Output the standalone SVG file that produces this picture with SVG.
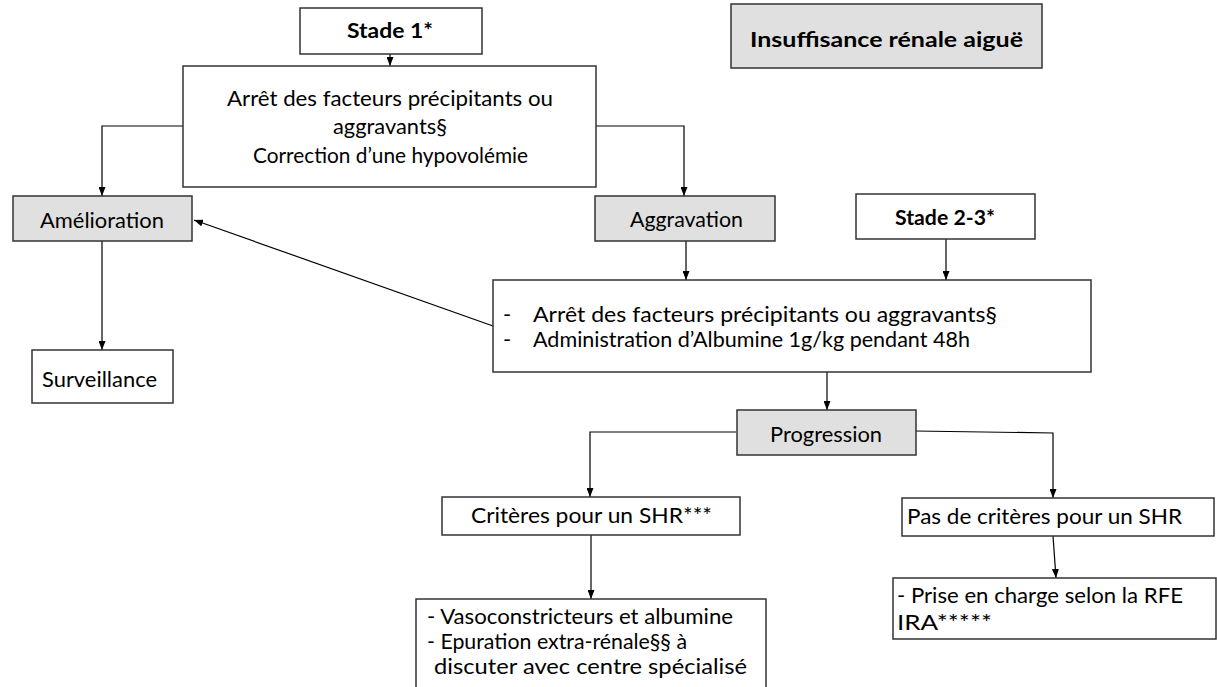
<svg xmlns="http://www.w3.org/2000/svg" width="1217" height="687" viewBox="0 0 1217 687">
<defs>
<marker id="ah" markerUnits="userSpaceOnUse" markerWidth="9" markerHeight="7" refX="9" refY="3.5" orient="auto">
<path d="M0,0 L9,3.5 L0,7 z" fill="#000"/>
</marker>
<style>
.box{fill:#fff;stroke:#333;stroke-width:1.5}
.gray{fill:#e0e0e0;stroke:#333;stroke-width:1.5}
.t{font-family:Lato,"Liberation Sans",sans-serif;font-size:22px;fill:#000}
.b{font-family:Lato,"Liberation Sans",sans-serif;font-size:20px;font-weight:bold;fill:#000}
.c{fill:none;stroke:#000;stroke-width:1.2}
.a{marker-end:url(#ah)}
</style>
</defs>
<rect width="1217" height="687" fill="#fff"/>

<g id="connectors">
<path class="c a" d="M390,54 V66"/>
<path class="c a" d="M183,126 H102 V196"/>
<path class="c a" d="M596,126 H684 V196"/>
<path class="c a" d="M102,241 V350"/>
<path class="c a" d="M493,326 L194,220"/>
<path class="c a" d="M686,241 V280"/>
<path class="c a" d="M946,239 V280"/>
<path class="c a" d="M827,372 V410"/>
<path class="c a" d="M736,432 H590 V497"/>
<path class="c a" d="M915,431 L1053,433 V498"/>
<path class="c a" d="M591,535 V599"/>
<path class="c a" d="M1053,536 L1056,578"/>
</g>

<g id="stade1">
<rect class="box" x="300" y="8" width="182" height="46"/>
<text class="b" x="347" y="38" textLength="86" lengthAdjust="spacingAndGlyphs">Stade 1*</text>
</g>

<g id="titre">
<rect class="gray" x="731" y="4" width="311" height="64"/>
<text class="b" x="750" y="47" font-size="21" textLength="273" lengthAdjust="spacingAndGlyphs">Insuffisance rénale aiguë</text>
</g>

<g id="arret1">
<rect class="box" x="183" y="66" width="413" height="121"/>
<text class="t" x="227" y="106" textLength="326" lengthAdjust="spacingAndGlyphs">Arrêt des facteurs précipitants ou</text>
<text class="t" x="333" y="134" textLength="114" lengthAdjust="spacingAndGlyphs">aggravants§</text>
<text class="t" x="253" y="163" textLength="275" lengthAdjust="spacingAndGlyphs">Correction d’une hypovolémie</text>
</g>

<g id="amelioration">
<rect class="gray" x="13" y="196" width="179" height="45"/>
<text class="t" x="40" y="228" textLength="124" lengthAdjust="spacingAndGlyphs">Amélioration</text>
</g>

<g id="surveillance">
<rect class="box" x="32" y="350" width="141" height="53"/>
<text class="t" x="42" y="387" textLength="115" lengthAdjust="spacingAndGlyphs">Surveillance</text>
</g>

<g id="aggravation">
<rect class="gray" x="595" y="196" width="180" height="45"/>
<text class="t" x="630" y="227" textLength="113" lengthAdjust="spacingAndGlyphs">Aggravation</text>
</g>

<g id="stade23">
<rect class="box" x="856" y="194" width="179" height="45"/>
<text class="b" x="895" y="225" textLength="100" lengthAdjust="spacingAndGlyphs">Stade 2-3*</text>
</g>

<g id="arret2">
<rect class="box" x="493" y="280" width="598" height="92"/>
<text class="t" x="503" y="322">-</text>
<text class="t" x="533" y="322" textLength="464" lengthAdjust="spacingAndGlyphs">Arrêt des facteurs précipitants ou aggravants§</text>
<text class="t" x="503" y="347">-</text>
<text class="t" x="533" y="347" textLength="437" lengthAdjust="spacingAndGlyphs">Administration d’Albumine 1g/kg pendant 48h</text>
</g>

<g id="progression">
<rect class="gray" x="737" y="410" width="179" height="45"/>
<text class="t" x="770" y="442" textLength="112" lengthAdjust="spacingAndGlyphs">Progression</text>
</g>

<g id="criteres">
<rect class="box" x="442" y="497" width="298" height="38"/>
<text class="t" x="471" y="523" textLength="241" lengthAdjust="spacingAndGlyphs">Critères pour un SHR***</text>
</g>

<g id="pascriteres">
<rect class="box" x="902" y="498" width="312" height="38"/>
<text class="t" x="907" y="524" textLength="275" lengthAdjust="spacingAndGlyphs">Pas de critères pour un SHR</text>
</g>

<g id="vasoconstricteurs">
<rect class="box" x="416" y="599" width="350" height="95"/>
<text class="t" x="427" y="624" textLength="306" lengthAdjust="spacingAndGlyphs">- Vasoconstricteurs et albumine</text>
<text class="t" x="427" y="649" textLength="260" lengthAdjust="spacingAndGlyphs">- Epuration extra-rénale§§ à</text>
<text class="t" x="434" y="674" textLength="313" lengthAdjust="spacingAndGlyphs">discuter avec centre spécialisé</text>
</g>

<g id="priseencharge">
<rect class="box" x="893" y="578" width="323" height="61"/>
<text class="t" x="897" y="603" textLength="286" lengthAdjust="spacingAndGlyphs">- Prise en charge selon la RFE</text>
<text class="t" x="897" y="630" textLength="95" lengthAdjust="spacingAndGlyphs">IRA*****</text>
</g>
</svg>
